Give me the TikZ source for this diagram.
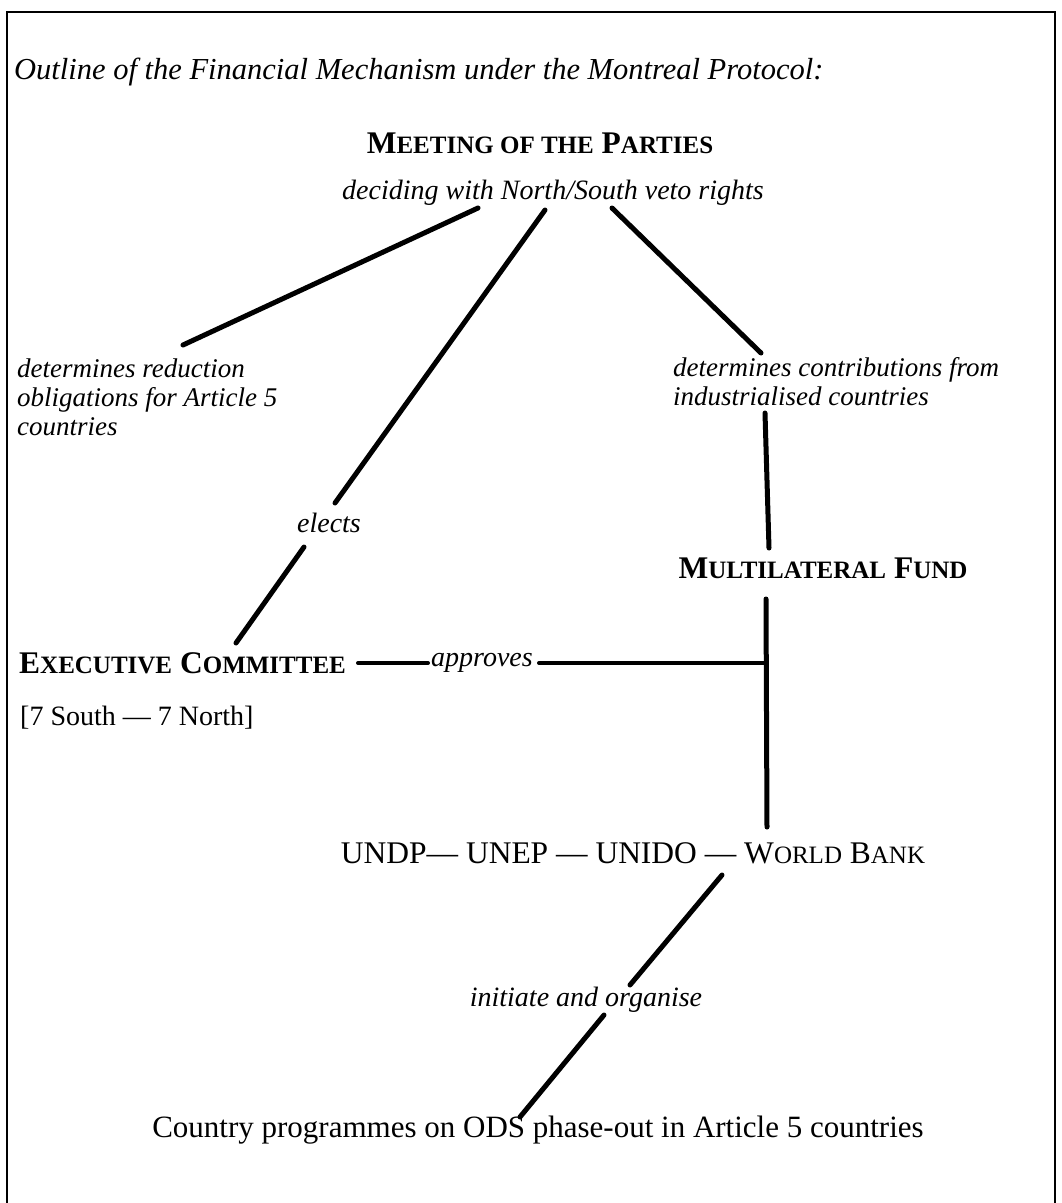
\documentclass[tikz,border=0pt]{standalone}
\usepackage{fontspec}
\setmainfont{Liberation Serif}
\newcommand{\smc}[1]{{\fontsize{25}{25}\selectfont #1}}
\newcommand{\smcr}[1]{{\fontsize{25}{25}\selectfont #1}}
\begin{document}
\begin{tikzpicture}[x=1pt,y=-1pt,
  txt/.style={inner sep=0pt, font=\fontsize{28}{29}\selectfont},
  itx/.style={txt, font=\fontsize{28}{29}\selectfont\itshape},
  blk/.style={txt, font=\fontsize{27}{29}\selectfont\itshape},
  head/.style={txt, font=\fontsize{31.5}{32}\selectfont\bfseries},
  big/.style={txt, font=\fontsize{31.5}{32}\selectfont},
  conn/.style={line width=5pt, line cap=round}]
\useasboundingbox (0,0) rectangle (1061,1203);
% frame
\draw[line width=1.5pt] (7,1210) -- (7,12) -- (1055,12) -- (1055,1210);
% texts
\node[txt, font=\fontsize{30.5}{32}\selectfont\itshape, anchor=west] (title) at (14,72) {Outline of the Financial Mechanism under the Montreal Protocol:};
\node[head] (mop) at (540,143) {M\smc{EETING OF THE} P\smc{ARTIES}};
\node[itx] (dec) at (553,193) {deciding with North/South veto rights};
\node[blk, anchor=west, align=left] (red) at (17,397) {determines reduction\\obligations for Article 5\\countries};
\node[blk, anchor=west, align=left] (con) at (673,381.5) {determines contributions from\\industrialised countries};
\node[itx] (elects) at (329,523) {elects};
\node[head] (mf) at (823,568) {M\smc{ULTILATERAL} F\smc{UND}};
\node[head, anchor=west] (ec) at (19,663) {E\smc{XECUTIVE} C\smc{OMMITTEE}};
\node[txt, anchor=west] (ns) at (20,718) {[7 South — 7 North]};
\node[itx] (appr) at (482,663) {approves};
\node[big] (agencies) at (633,853) {UNDP— UNEP — UNIDO — W\smcr{ORLD} B\smcr{ANK}};
\node[itx] (init) at (586,1000) {initiate and organise};
\node[txt, font=\fontsize{31}{32}\selectfont] (cp) at (538,1130) {Country programmes on ODS phase-out in Article 5 countries};
% connector end points
\coordinate (l1a) at (478,208); \coordinate (l1b) at (183,345);
\coordinate (m1a) at (545,210); \coordinate (m1b) at (335,503);
\coordinate (m2a) at (304,547); \coordinate (m2b) at (236,643);
\coordinate (r1a) at (612,208); \coordinate (r1b) at (761,353);
\coordinate (v1a) at (765,413); \coordinate (v1b) at (769,548);
\coordinate (v2a) at (766,599); \coordinate (v2b) at (767,827);
\coordinate (junc) at (765,663);
\coordinate (a1a) at (358,663); \coordinate (a1b) at (428,663);
\coordinate (a2a) at (539,663);
\coordinate (d1a) at (722,875); \coordinate (d1b) at (630,985);
\coordinate (d2a) at (604,1015); \coordinate (d2b) at (520,1117);
% connectors
\draw[conn] (l1a) -- (l1b);
\draw[conn] (m1a) -- (m1b);
\draw[conn] (m2a) -- (m2b);
\draw[conn] (r1a) -- (r1b);
\draw[conn] (v1a) -- (v1b);
\draw[conn] (v2a) -- (v2b);
\draw[conn, line width=4pt] (a1a) -- (a1b);
\draw[conn, line width=4pt] (a2a) -- (junc);
\draw[conn] (d1a) -- (d1b);
\draw[conn] (d2a) -- (d2b);
\end{tikzpicture}
\end{document}
